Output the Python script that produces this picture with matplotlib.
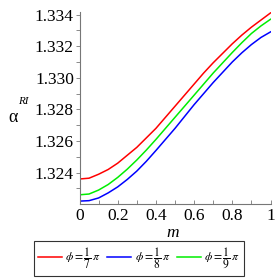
import matplotlib
matplotlib.use("Agg")
import matplotlib.pyplot as plt
from matplotlib.ticker import MultipleLocator, FuncFormatter

m = [0.0, 0.05, 0.1, 0.15, 0.2, 0.25, 0.3, 0.35, 0.4, 0.45, 0.5,
     0.55, 0.6, 0.65, 0.7, 0.75, 0.8, 0.85, 0.9, 0.95, 1.0]
alpha_7 = [1.32360, 1.32365, 1.32390, 1.32420, 1.32460, 1.32510, 1.32560, 1.32620, 1.32680, 1.32750, 1.32820,
           1.32890, 1.32960, 1.33030, 1.33095, 1.33155, 1.33215, 1.33270, 1.33320, 1.33365, 1.33410]
alpha_8 = [1.32220, 1.32223, 1.32240, 1.32272, 1.32310, 1.32357, 1.32410, 1.32472, 1.32540, 1.32610, 1.32680,
           1.32755, 1.32830, 1.32900, 1.32970, 1.33035, 1.33100, 1.33158, 1.33210, 1.33255, 1.33290]
alpha_9 = [1.32260, 1.32265, 1.32290, 1.32325, 1.32370, 1.32422, 1.32480, 1.32543, 1.32610, 1.32680, 1.32750,
           1.32820, 1.32890, 1.32960, 1.33030, 1.33095, 1.33160, 1.33222, 1.33280, 1.33328, 1.33370]
labels = [r'$\phi = \dfrac{1}{7}\,\pi$', r'$\phi = \dfrac{1}{8}\,\pi$', r'$\phi = \dfrac{1}{9}\,\pi$']
colors = ['#ff0000', '#0000ff', '#00ee00']

plt.rcParams['font.family'] = 'serif'
plt.rcParams['font.serif'] = ['Liberation Serif', 'DejaVu Serif']
plt.rcParams['mathtext.fontset'] = 'stix'

fig = plt.figure(figsize=(2.78, 2.78), dpi=100)
ax = fig.add_axes([79.5 / 278, 1 - 203.5 / 278, 191 / 278, 191.5 / 278])

for y, c, lab in zip([alpha_7, alpha_8, alpha_9], colors, labels):
    ax.plot(m, y, color=c, lw=1.1, label=lab)

ax.set_xlim(0, 1)
ax.set_ylim(1.32205, 1.33416)
ax.spines['top'].set_visible(False)
ax.spines['right'].set_visible(False)
for s in ['left', 'bottom']:
    ax.spines[s].set_color('#777777')
    ax.spines[s].set_linewidth(0.8)

ax.xaxis.set_major_locator(MultipleLocator(0.2))
ax.xaxis.set_minor_locator(MultipleLocator(0.1))
ax.yaxis.set_major_locator(MultipleLocator(0.002))
ax.yaxis.set_minor_locator(MultipleLocator(0.001))
ax.xaxis.set_major_formatter(FuncFormatter(lambda v, p: '%g' % round(v, 1)))
ax.yaxis.set_major_formatter(FuncFormatter(lambda v, p: '%.3f' % v))
ax.tick_params(axis='x', which='both', direction='in', length=3, width=0.6, color='#777777', labelsize=12.5, pad=3)
ax.tick_params(axis='y', which='both', direction='out', length=3, width=0.6, color='#777777', labelsize=12.5, pad=1)

fig.text(173 / 278, 1 - 233 / 278, 'm', style='italic', fontsize=12.5, ha='center', va='center')
fig.text(13 / 278, 1 - 117 / 278, 'α', fontsize=13, ha='center', va='center')
fig.text(23 / 278, 1 - 101 / 278, 'RI', style='italic', fontsize=8, ha='center', va='center')

leg = fig.legend(loc='center', bbox_to_anchor=(139 / 278, 1 - 258.5 / 278), ncol=3, fontsize=8.5,
                 frameon=True, fancybox=False, edgecolor='black', handlelength=2.0,
                 columnspacing=0.55, handletextpad=0.3, borderpad=0.36)
leg.get_frame().set_linewidth(0.8)

fig.savefig('out.png', dpi=100)
